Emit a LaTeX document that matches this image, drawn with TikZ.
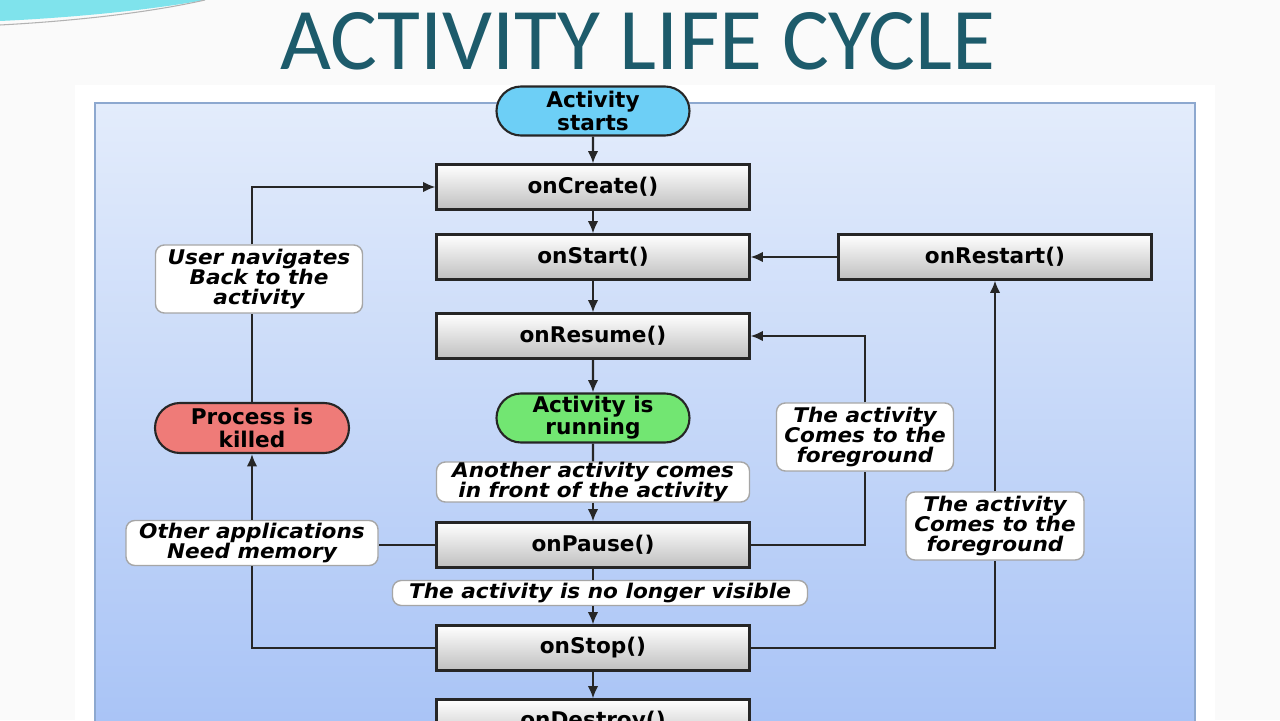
\documentclass[tikz,border=0pt]{standalone}
\usepackage{fontspec}
\setmainfont{DejaVu Sans}
\newfontfamily\titlefont{Carlito}
\newfontfamily\notefont[FakeStretch=1.07]{DejaVu Sans}
\usepackage{tikz}
\usetikzlibrary{positioning, shapes.misc, arrows.meta}

\definecolor{titleteal}{HTML}{1D5B6B}
\definecolor{startblue}{HTML}{6DCFF6}
\definecolor{rungreen}{HTML}{72E672}
\definecolor{killred}{HTML}{EF7B78}
\definecolor{paneltop}{HTML}{E3ECFB}
\definecolor{panelbot}{HTML}{A8C3F6}
\definecolor{panelline}{HTML}{8DA8CF}
\definecolor{swoosh}{HTML}{7FE3EC}

\begin{document}
\begin{tikzpicture}[>={Latex[length=7pt,width=6pt]}]

% Define styles
\tikzstyle{state} = [rectangle, draw=black!85, line width=1.2pt, top color=white, bottom color=black!25, minimum width=6.26cm, minimum height=0.9cm, inner sep=0pt, font=\fontsize{12.3}{13}\selectfont\bfseries]
\tikzstyle{event} = [rounded rectangle, draw=black!85, line width=1.2pt, minimum width=3.86cm, minimum height=0.98cm, inner sep=0pt, align=center, font=\fontsize{12.3}{12.6}\selectfont\bfseries]
\tikzstyle{note} = [rectangle, rounded corners=5pt, draw=black!35, line width=0.8pt, fill=white, inner sep=0pt, align=center, font=\notefont\fontsize{11.5}{11.3}\selectfont\bfseries\itshape]
\tikzstyle{arrow} = [line width=1.2pt, draw=black!85, ->]
\tikzstyle{link} = [line width=1.2pt, draw=black!85]

% Slide
\useasboundingbox (0,0) rectangle (25.6,14.4);
\clip (0,0) rectangle (25.6,14.4);
\fill[black!2] (0,0) rectangle (25.6,14.4);
\fill[swoosh] (0,14.4) -- (0,13.98) .. controls (1.5,14.05) and (3,14.2) .. (4.1,14.4) -- cycle;
\draw[black!30, line width=0.6pt] (0,13.9) .. controls (1.5,13.98) and (3,14.15) .. (4.1,14.4);
\fill[white] (1.5,12.7) rectangle (24.3,-0.3);
\shadedraw[top color=paneltop, bottom color=panelbot, draw=panelline, line width=0.8pt] (1.9,12.34) rectangle (23.9,-0.3);

% Title
\node[font=\titlefont\fontsize{50}{51}\selectfont, text=titleteal, inner sep=0pt] (title) at (12.76,13.58) {ACTIVITY LIFE CYCLE};

% Main column
\node[event, fill=startblue] (starts) at (11.86,12.18) {Activity\\starts};
\node[state] (create) at (11.86,10.66) {onCreate()};
\node[state] (start) at (11.86,9.26) {onStart()};
\node[state] (resume) at (11.86,7.68) {onResume()};
\node[event, fill=rungreen] (running) at (11.86,6.04) {Activity is\\running};
\node[note, minimum width=6.26cm, minimum height=0.8cm] (front) at (11.86,4.76) {Another activity comes\\in front of the activity};
\node[state] (pause) at (11.86,3.50) {onPause()};
\node[note, minimum width=8.3cm, minimum height=0.5cm] (hidden) at (12.0,2.54) {The activity is no longer visible};
\node[state] (stop) at (11.86,1.44) {onStop()};
\node[state] (destroy) at (11.86,-0.04) {onDestroy()};

% Right side
\node[state] (restart) at (19.9,9.26) {onRestart()};
\node[note, minimum width=3.54cm, minimum height=1.36cm] (fgone) at (17.30,5.66) {The activity\\Comes to the\\foreground};
\node[note, minimum width=3.56cm, minimum height=1.36cm] (fgtwo) at (19.9,3.88) {The activity\\Comes to the\\foreground};

% Left side
\node[event, fill=killred, minimum width=3.88cm, minimum height=1.0cm] (killed) at (5.04,5.84) {Process is\\killed};
\node[note, minimum width=4.14cm, minimum height=1.36cm] (navback) at (5.18,8.82) {User navigates\\Back to the\\activity};
\node[note, minimum width=5.04cm, minimum height=0.9cm] (memory) at (5.04,3.54) {Other applications\\Need memory};

% Main flow
\draw[arrow] (starts) -- (create);
\draw[arrow] (create) -- (start);
\draw[arrow] (start) -- (resume);
\draw[arrow] (resume) -- (running);
\draw[link] (running) -- (front);
\draw[arrow] (front) -- (pause);
\draw[link] (pause.south) -- (pause.south |- hidden.north);
\draw[arrow] (hidden.south -| stop) -- (stop.north);
\draw[arrow] (stop) -- (destroy);

% Back to foreground
\draw[link] (pause.east) -| (fgone.south);
\draw[arrow] (fgone.north) |- (resume.east);
\draw[link] (stop.east) -| (fgtwo.south);
\draw[arrow] (fgtwo.north) -- (restart.south);
\draw[arrow] (restart) -- (start);

% Process killed loop
\draw[link] (stop.west) -| (memory.south);
\draw[link] (pause.west) -- (memory.east |- pause.west);
\draw[arrow] (memory.north) -- (killed.south);
\draw[link] (killed.north) -- (killed.north |- navback.south);
\draw[arrow] (navback.north -| killed) |- (create.west);

\end{tikzpicture}
\end{document}
